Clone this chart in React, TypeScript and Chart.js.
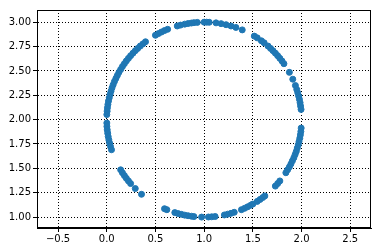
import React, { useEffect, useRef } from "react";
import { Chart, registerables } from "chart.js";

Chart.register(...registerables);

const xValues = [
  1.995, 1.990, 1.985, 1.978, 1.970, 1.961, 1.951, 1.937, 1.910, 1.875,
  1.819, 1.799, 1.777, 1.755, 1.731, 1.707, 1.682, 1.656, 1.616, 1.588, 1.545, 1.515,
  1.391,
  1.326, 1.276, 1.225, 1.174, 1.122,
  1.052, 1.026, 1.000,
  0.930, 0.895, 0.869, 0.835, 0.801, 0.758, 0.724,
  0.625, 0.593, 0.562, 0.531, 0.500,
  0.398, 0.371, 0.344, 0.318, 0.293, 0.269, 0.245, 0.223, 0.201, 0.181, 0.161, 0.143, 0.125,
  0.109, 0.094, 0.079, 0.066, 0.054, 0.044, 0.034, 0.026, 0.018, 0.012, 0.007, 0.004, 0.001,
  0.001, 0.002, 0.005, 0.010, 0.015, 0.022, 0.030, 0.039, 0.049,
  0.143, 0.161, 0.181, 0.201, 0.223, 0.245, 0.293, 0.357,
  0.593, 0.617,
  0.699, 0.733, 0.767, 0.801, 0.835, 0.869, 0.895,
  0.974,
  1.044, 1.078, 1.113,
  1.208, 1.242, 1.276, 1.309,
  1.383, 1.415, 1.446, 1.477, 1.500,
  1.545, 1.574, 1.602, 1.623,
  1.731, 1.755, 1.777,
  1.839, 1.857, 1.875, 1.891, 1.906, 1.921, 1.934, 1.946, 1.956, 1.966, 1.974, 1.982, 1.988, 1.993, 1.996,
];

const yValues = [
  2.105, 2.139, 2.174, 2.208, 2.242, 2.276, 2.309, 2.350, 2.415, 2.485,
  2.574, 2.602, 2.629, 2.656, 2.682, 2.707, 2.731, 2.755, 2.788, 2.809, 2.839, 2.857,
  2.921,
  2.946, 2.961, 2.974, 2.985, 2.993,
  2.999, 3.000, 3.000,
  2.998, 2.995, 2.991, 2.986, 2.980, 2.970, 2.961,
  2.927, 2.914, 2.899, 2.883, 2.866,
  2.799, 2.777, 2.755, 2.731, 2.707, 2.682, 2.656, 2.629, 2.602, 2.574, 2.545, 2.515, 2.485,
  2.454, 2.423, 2.391, 2.358, 2.326, 2.292, 2.259, 2.225, 2.191, 2.156, 2.122, 2.087, 2.052,
  1.965, 1.930, 1.895, 1.861, 1.826, 1.792, 1.758, 1.724, 1.691,
  1.485, 1.455, 1.426, 1.398, 1.371, 1.344, 1.293, 1.234,
  1.086, 1.076,
  1.046, 1.036, 1.028, 1.020, 1.014, 1.009, 1.005,
  1.000,
  1.001, 1.003, 1.006,
  1.022, 1.030, 1.039, 1.049,
  1.076, 1.090, 1.105, 1.121, 1.134,
  1.161, 1.181, 1.201, 1.217,
  1.318, 1.344, 1.371,
  1.455, 1.485, 1.515, 1.546, 1.577, 1.609, 1.642, 1.674, 1.708, 1.741, 1.775, 1.809, 1.844, 1.878, 1.913,
];

const xTicks = [-0.5, 0.0, 0.5, 1.0, 1.5, 2.0, 2.5];
const yTicks = [1.0, 1.25, 1.5, 1.75, 2.0, 2.25, 2.5, 2.75, 3.0];

const fmt = (v: number, d: number) => (v < 0 ? "\u2212" : "") + Math.abs(v).toFixed(d);

const boxPlugin = {
  id: "box",
  afterDraw(chart: any) {
    const { ctx, chartArea } = chart;
    ctx.save();
    ctx.strokeStyle = "#000";
    ctx.lineWidth = 1;
    ctx.strokeRect(
      Math.round(chartArea.left) + 0.5,
      Math.round(chartArea.top) + 0.5,
      Math.round(chartArea.right - chartArea.left) - 1,
      Math.round(chartArea.bottom - chartArea.top) - 1
    );
    ctx.restore();
  },
};

export default function App() {
  const ref = useRef<HTMLCanvasElement | null>(null);
  useEffect(() => {
    if (!ref.current) return;
    const pts = xValues.map((x, i) => ({ x, y: yValues[i] }));
    const font = { family: "DejaVu Sans", size: 10 };
    const chart = new Chart(ref.current, {
      type: "scatter",
      data: {
        datasets: [
          {
            data: pts,
            backgroundColor: "#1f77b4",
            borderColor: "#1f77b4",
            pointRadius: 3,
            borderWidth: 1,
          },
        ],
      },
      options: {
        animation: false,
        responsive: true,
        maintainAspectRatio: false,
        layout: { padding: { top: 10, right: 11, left: 0, bottom: 0 } },
        plugins: { legend: { display: false }, tooltip: { enabled: false } },
        scales: {
          x: {
            type: "linear",
            min: -0.716,
            max: 2.713,
            afterBuildTicks: (s: any) => {
              s.ticks = xTicks.map((v) => ({ value: v }));
            },
            afterFit: (s: any) => {
              s.height = 24;
            },
            ticks: {
              color: "#000",
              font,
              padding: 1,
              maxRotation: 0,
              autoSkip: false,
              callback: (v: any) => fmt(Number(v), 1),
            },
            grid: { color: "#000", lineWidth: 1, tickLength: 4, tickColor: "#000" },
            border: { display: true, color: "#000", width: 1, dash: [1, 2] },
          },
          y: {
            type: "linear",
            min: 0.888,
            max: 3.125,
            afterBuildTicks: (s: any) => {
              s.ticks = yTicks.map((v) => ({ value: v }));
            },
            afterFit: (s: any) => {
              s.width = 37;
            },
            ticks: {
              color: "#000",
              font,
              padding: 2,
              autoSkip: false,
              callback: (v: any) => fmt(Number(v), 2),
            },
            grid: { color: "#000", lineWidth: 1, tickLength: 4, tickColor: "#000" },
            border: { display: true, color: "#000", width: 1, dash: [1, 2] },
          },
        },
      },
      plugins: [boxPlugin],
    } as any);
    return () => chart.destroy();
  }, []);
  return (
    <div style={{ position: "fixed", left: 0, top: 0, width: 382, height: 252, background: "#fff" }}>
      <canvas ref={ref} />
    </div>
  );
}
